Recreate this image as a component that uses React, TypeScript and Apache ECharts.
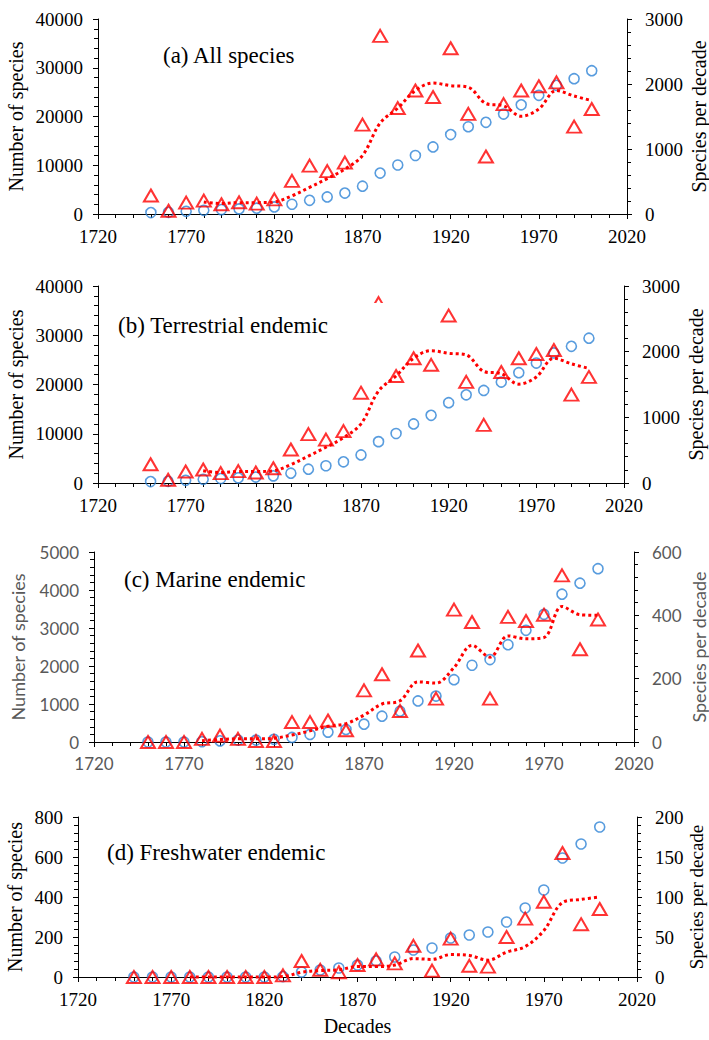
import React, { useEffect, useRef } from "react";
import * as echarts from "echarts";

const decades = [1750, 1760, 1770, 1780, 1790, 1800, 1810, 1820, 1830, 1840, 1850, 1860, 1870, 1880, 1890, 1900, 1910, 1920, 1930, 1940, 1950, 1960, 1970, 1980, 1990, 2000];
const maDecades = [1780, 1790, 1800, 1810, 1820, 1830, 1840, 1850, 1860, 1870, 1880, 1890, 1900, 1910, 1920, 1930, 1940, 1950, 1960, 1970, 1980, 1990, 2000];
const xTicks = [1720, 1770, 1820, 1870, 1920, 1970, 2020];

// (a) All species
const allCumulative = [300, 350, 550, 750, 900, 1050, 1200, 1450, 2000, 2800, 3500, 4300, 5700, 8400, 10050, 12000, 13750, 16300, 17900, 18800, 20500, 22400, 24350, 26400, 27750, 29400];
const allPerDecade = [285, 50, 175, 205, 150, 180, 160, 225, 510, 745, 660, 790, 1375, 2740, 1630, 1900, 1800, 2550, 1540, 885, 1690, 1900, 1965, 2025, 1345, 1615];
const allMovingAvg = [185, 160, 175, 175, 185, 280, 410, 545, 690, 900, 1400, 1630, 1900, 2015, 1975, 1950, 1700, 1665, 1505, 1615, 1900, 1815, 1745];

// (b) Terrestrial endemic
const terrCumulative = [300, 350, 550, 750, 900, 1050, 1200, 1450, 2000, 2800, 3500, 4300, 5700, 8400, 10050, 12000, 13750, 16300, 17900, 18800, 20500, 22400, 24350, 26400, 27750, 29400];
const terrPerDecade = [285, 50, 175, 205, 150, 180, 160, 225, 510, 745, 660, 790, 1375, 2740, 1630, 1900, 1800, 2550, 1540, 885, 1690, 1900, 1965, 2025, 1345, 1615];
const terrMovingAvg = [185, 160, 175, 175, 185, 280, 410, 545, 690, 900, 1400, 1630, 1900, 2015, 1975, 1950, 1700, 1665, 1505, 1615, 1900, 1815, 1745];

// (c) Marine endemic
const marCumulative = [0, 0, 0, 10, 30, 50, 50, 70, 120, 200, 260, 330, 470, 680, 810, 1080, 1210, 1640, 2020, 2170, 2560, 2940, 3360, 3890, 4180, 4560];
const marPerDecade = [0, 0, 0, 10, 20, 10, 3, 3, 63, 63, 68, 37, 163, 214, 98, 289, 137, 418, 379, 137, 395, 382, 402, 526, 293, 387];
const marMovingAvg = [4, 8, 10, 10, 12, 22, 35, 50, 58, 85, 120, 130, 190, 186, 235, 305, 268, 335, 326, 330, 428, 402, 400];

// (d) Freshwater endemic
const freCumulative = [0, 0, 0, 0, 0, 0, 0, 0, 2, 25, 35, 45, 60, 80, 100, 135, 145, 195, 210, 225, 275, 345, 435, 595, 665, 750];
const frePerDecade = [0, 0, 0, 0, 0, 0, 0, 0, 2, 20, 9, 6, 15, 22, 17, 39, 8, 48, 14, 13, 50, 73, 94, 155, 66, 85];
const freMovingAvg = [0, 0, 0, 0, 0, 0.5, 6, 8, 9, 13, 13, 15, 23, 22, 28, 27, 21, 31, 38, 58, 93, 97, 100];

const panelTitles = ["(a) All species", "(b) Terrestrial endemic", "(c) Marine endemic", "(d) Freshwater endemic"];
const leftMax = [40000, 40000, 5000, 800];
const leftInterval = [10000, 10000, 1000, 200];
const rightMax = [3000, 3000, 600, 200];
const rightInterval = [1000, 1000, 200, 50];

const SERIF = "Liberation Serif";
const SANS = "Lato";
const BLUE = "#2E83D6";
const RED = "#FF0000";

export default function App() {
  const ref = useRef<HTMLDivElement>(null);

  useEffect(() => {
    if (!ref.current) return;
    const chart = echarts.init(ref.current, undefined, { renderer: "svg" });

    const grids = [
      { left: 98, top: 19, width: 529, height: 195, outerBoundsMode: "none", containLabel: false },
      { left: 98, top: 286, width: 526, height: 197, outerBoundsMode: "none", containLabel: false },
      { left: 94, top: 552, width: 540, height: 190, outerBoundsMode: "none", containLabel: false },
      { left: 78, top: 817, width: 559, height: 160, outerBoundsMode: "none", containLabel: false },
    ];
    const leftGap = [72, 72, 67, 53];
    const rightGap = [62, 62, 56, 50];
    const fonts = [SERIF, SERIF, SANS, SERIF];
    const textColors = ["#000", "#000", "#595959", "#000"];
    const labelSize = [19, 19, 17, 19];
    const nameSize = [20, 20, 18, 20];
    const rightNameSize = [20, 20, 18, 19];

    const cum = [allCumulative, terrCumulative, marCumulative, freCumulative];
    const per = [allPerDecade, terrPerDecade, marPerDecade, frePerDecade];
    const ma = [allMovingAvg, terrMovingAvg, marMovingAvg, freMovingAvg];

    const axisLine = { show: true, lineStyle: { color: "#000", width: 1 } };
    const tick = { show: true, length: 5, lineStyle: { color: "#000", width: 1 } };
    const minor = { show: true, splitNumber: 5, length: 4, lineStyle: { color: "#000", width: 1 } };

    const xAxis = grids.map((_, i) => ({
      type: "value",
      gridIndex: i,
      min: xTicks[0],
      max: xTicks[xTicks.length - 1],
      interval: 50,
      axisLine,
      axisTick: tick,
      minorTick: minor,
      splitLine: { show: false },
      axisLabel: {
        fontFamily: fonts[i],
        fontSize: labelSize[i],
        color: textColors[i],
        margin: 13,
        formatter: (v: number) => String(v),
      },
      name: i === 3 ? "Decades" : "",
      nameLocation: "middle",
      nameGap: 39,
      nameMoveOverlap: false,
      nameTextStyle: { fontFamily: SERIF, fontSize: 20, color: "#000" },
    }));

    const yAxis: any[] = [];
    grids.forEach((_, i) => {
      yAxis.push({
        type: "value",
        gridIndex: i,
        position: "left",
        min: 0,
        max: leftMax[i],
        interval: leftInterval[i],
        axisLine,
        axisTick: tick,
        minorTick: minor,
        splitLine: { show: false },
        axisLabel: {
          fontFamily: fonts[i],
          fontSize: labelSize[i],
          color: textColors[i],
          margin: 15,
          formatter: (v: number) => String(v),
        },
        name: "Number of species",
        nameLocation: "middle",
        nameGap: leftGap[i],
        nameMoveOverlap: false,
        nameTextStyle: { fontFamily: fonts[i], fontSize: nameSize[i], color: textColors[i] },
      });
      yAxis.push({
        type: "value",
        gridIndex: i,
        position: "right",
        min: 0,
        max: rightMax[i],
        interval: rightInterval[i],
        axisLine,
        axisTick: tick,
        minorTick: minor,
        splitLine: { show: false },
        axisLabel: {
          fontFamily: fonts[i],
          fontSize: labelSize[i],
          color: textColors[i],
          margin: 18,
          formatter: (v: number) => String(v),
        },
        name: "Species per decade",
        nameLocation: "middle",
        nameGap: rightGap[i],
        nameMoveOverlap: false,
        nameTextStyle: { fontFamily: fonts[i], fontSize: rightNameSize[i], color: textColors[i] },
      });
    });

    const series: any[] = [];
    grids.forEach((_, i) => {
      series.push({
        type: "scatter",
        xAxisIndex: i,
        yAxisIndex: 2 * i,
        symbol: "circle",
        symbolSize: 10,
        clip: false,
        itemStyle: { color: "rgba(0,0,0,0)", borderColor: BLUE, borderWidth: 1.6 },
        data: decades.map((d, k) => [d, cum[i][k]]),
        z: 2,
      });
      series.push({
        type: "scatter",
        xAxisIndex: i,
        yAxisIndex: 2 * i + 1,
        symbol: "triangle",
        symbolSize: [14, 12],
        clip: false,
        itemStyle: { color: "rgba(0,0,0,0)", borderColor: RED, borderWidth: 2 },
        data: decades.map((d, k) => [d, per[i][k]]),
        z: 3,
      });
      series.push({
        type: "line",
        xAxisIndex: i,
        yAxisIndex: 2 * i + 1,
        showSymbol: false,
        smooth: 0.35,
        clip: false,
        lineStyle: { color: RED, width: 3, type: [3, 3] },
        data: maDecades.map((d, k) => [d, ma[i][k]]),
        z: 4,
      });
    });

    const titlePos = [
      [163, 55],
      [118, 325],
      [124, 579],
      [107, 852],
    ];

    const graphic: any[] = [
      {
        type: "rect",
        shape: { x: 110, y: 303, width: 285, height: 44 },
        style: { fill: "#fff" },
        z: 100,
      },
      ...panelTitles.map((t, i) => ({
        type: "text",
        x: titlePos[i][0],
        y: titlePos[i][1],
        z: 101,
        style: {
          text: t,
          fontFamily: SERIF,
          fontSize: 23,
          fill: "#000",
          verticalAlign: "middle",
          align: "left",
        },
      })),
    ];

    chart.setOption({
      animation: false,
      backgroundColor: "#fff",
      textStyle: { fontFamily: SERIF },
      grid: grids,
      xAxis,
      yAxis,
      series,
      graphic,
    });

    return () => chart.dispose();
  }, []);

  return (
    <div
      ref={ref}
      style={{ position: "absolute", left: 0, top: 0, width: 709, height: 1040 }}
    />
  );
}
